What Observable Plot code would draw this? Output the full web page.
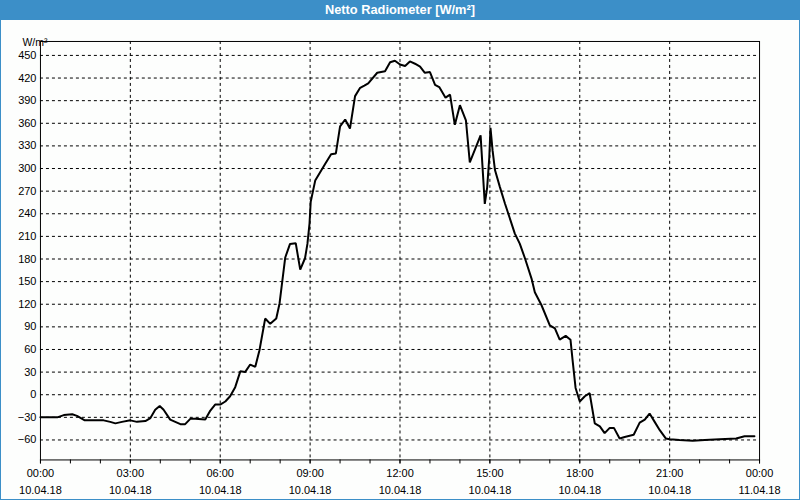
<!DOCTYPE html>
<html>
<head>
<meta charset="utf-8">
<script src="https://cdn.jsdelivr.net/npm/d3@7"></script>
<script src="https://cdn.jsdelivr.net/npm/@observablehq/plot@0.6"></script>
<style>
  html, body { margin: 0; padding: 0; background: #ffffff; }
  #frame { position: relative; width: 798px; height: 479px; border: 1px solid #3c8fc8; border-top: none; background: #fdfefd; margin-top: 20px; }
  #title { position: absolute; left: 0; top: 0; width: 800px; height: 20px; background: #3c8fc8; color: #ffffff;
    font: bold 12.8px "Liberation Sans", Arial, sans-serif; text-align: center; line-height: 20px; }
  #chart { position: absolute; left: -1px; top: 0; }
</style>
</head>
<body>
<div id="title">Netto Radiometer [W/m²]</div>
<div id="frame"><div id="chart"></div></div>
<script>
// Time of day in hours (10.04.18) and net radiation in W/m²
const hours = [0, 0.56, 0.78, 1.06, 1.22, 1.48, 2.11, 2.33, 2.5, 2.72, 3.0, 3.22, 3.5, 3.67, 3.83, 3.98, 4.11, 4.33, 4.5, 4.67, 4.83, 5.0, 5.17, 5.5, 5.67, 5.83, 6.0, 6.17, 6.33, 6.5, 6.67, 6.83, 7.0, 7.17, 7.31, 7.5, 7.67, 7.87, 7.98, 8.17, 8.33, 8.52, 8.67, 8.83, 8.91, 8.98, 9.02, 9.17, 9.5, 9.7, 9.86, 10.0, 10.17, 10.33, 10.5, 10.67, 10.81, 10.94, 11.24, 11.5, 11.67, 11.83, 12.0, 12.17, 12.33, 12.5, 12.67, 12.83, 13.0, 13.17, 13.31, 13.52, 13.67, 13.83, 14.0, 14.2, 14.33, 14.69, 14.83, 14.91, 14.98, 15.02, 15.09, 15.17, 15.33, 15.5, 15.83, 16.0, 16.17, 16.39, 16.5, 16.72, 17.0, 17.17, 17.33, 17.53, 17.69, 17.76, 17.86, 18.0, 18.17, 18.33, 18.5, 18.67, 18.83, 19.0, 19.14, 19.33, 19.5, 19.8, 20.0, 20.17, 20.33, 20.5, 20.67, 20.87, 21.0, 21.33, 21.77, 22.17, 22.67, 23.22, 23.5, 23.83];
const values = [-30, -30, -27, -26, -28, -34, -34, -36, -38, -36, -34, -36, -35, -31, -20, -15, -20, -33, -36, -39, -39, -32, -32, -33, -21, -13, -13, -9, -2, 10, 31, 30, 40, 37, 59, 101, 94, 101, 121, 182, 200, 201, 166, 181, 200, 227, 256, 284, 306, 319, 320, 356, 365, 353, 396, 407, 410, 413, 427, 429, 441, 443, 438, 436, 442, 439, 435, 427, 428, 411, 408, 394, 398, 358, 384, 364, 308, 344, 253, 275, 315, 354, 324, 298, 276, 254, 214, 200, 181, 154, 136, 119, 92, 88, 73, 78, 73, 46, 9, -9, -2, 2, -38, -42, -51, -44, -44, -58, -56, -53, -37, -33, -25, -36, -47, -58, -59, -60, -61, -60, -59, -58, -55, -55];
const yTicks = [-60, -30, 0, 30, 60, 90, 120, 150, 180, 210, 240, 270, 300, 330, 360, 390, 420, 450];
const xMajorHours = [0, 3, 6, 9, 12, 15, 18, 21, 24];
const xMinorHours = d3.range(0, 25);
const yUnit = "W/m²";

const base = Date.UTC(2018, 3, 10, 0, 0);
const toDate = h => new Date(base + h * 3600 * 1000);
const data = hours.map((h, i) => ({t: toDate(h), v: values[i]}));
const fmt = d3.utcFormat("%H:%M\n%d.%m.%y");
const font = '"Liberation Sans", Arial, sans-serif';

const chart = Plot.plot({
  width: 800,
  height: 480,
  marginLeft: 40,
  marginRight: 40,
  marginTop: 21,
  marginBottom: 40,
  style: {fontFamily: font, fontSize: "11px", background: "transparent", color: "#000"},
  x: {type: "utc", domain: [toDate(0), toDate(24)]},
  y: {domain: [-86.5, 468.5]},
  marks: [
    Plot.gridY(yTicks, {stroke: "#000", strokeOpacity: 1, strokeDasharray: "3,3", strokeWidth: 1}),
    Plot.gridX(xMajorHours.slice(1, -1).map(toDate), {stroke: "#000", strokeOpacity: 1, strokeDasharray: "3,3", strokeWidth: 1}),
    Plot.axisY(yTicks, {tickSize: 0, tickPadding: 4, label: null, fontSize: 11, fill: "#000"}),
    Plot.axisX(xMinorHours.map(toDate), {tickSize: 4, tickFormat: () => "", label: null, stroke: "#000"}),
    Plot.axisX(xMajorHours.map(toDate), {tickSize: 4, tickPadding: 1, tickFormat: fmt, label: null, lineHeight: 1.55, fontSize: 11, fill: "#000", stroke: "#000"}),
    Plot.text([yUnit], {frameAnchor: "top-left", lineAnchor: "middle", dx: -18, dy: 1, text: d => d, fontSize: 10.5, fill: "#000"}),
    Plot.line(data, {x: "t", y: "v", stroke: "#000", strokeWidth: 2, strokeLinejoin: "miter"}),
    Plot.frame({stroke: "#000", strokeWidth: 1})
  ]
});
document.getElementById("chart").appendChild(chart);
</script>
</body>
</html>
